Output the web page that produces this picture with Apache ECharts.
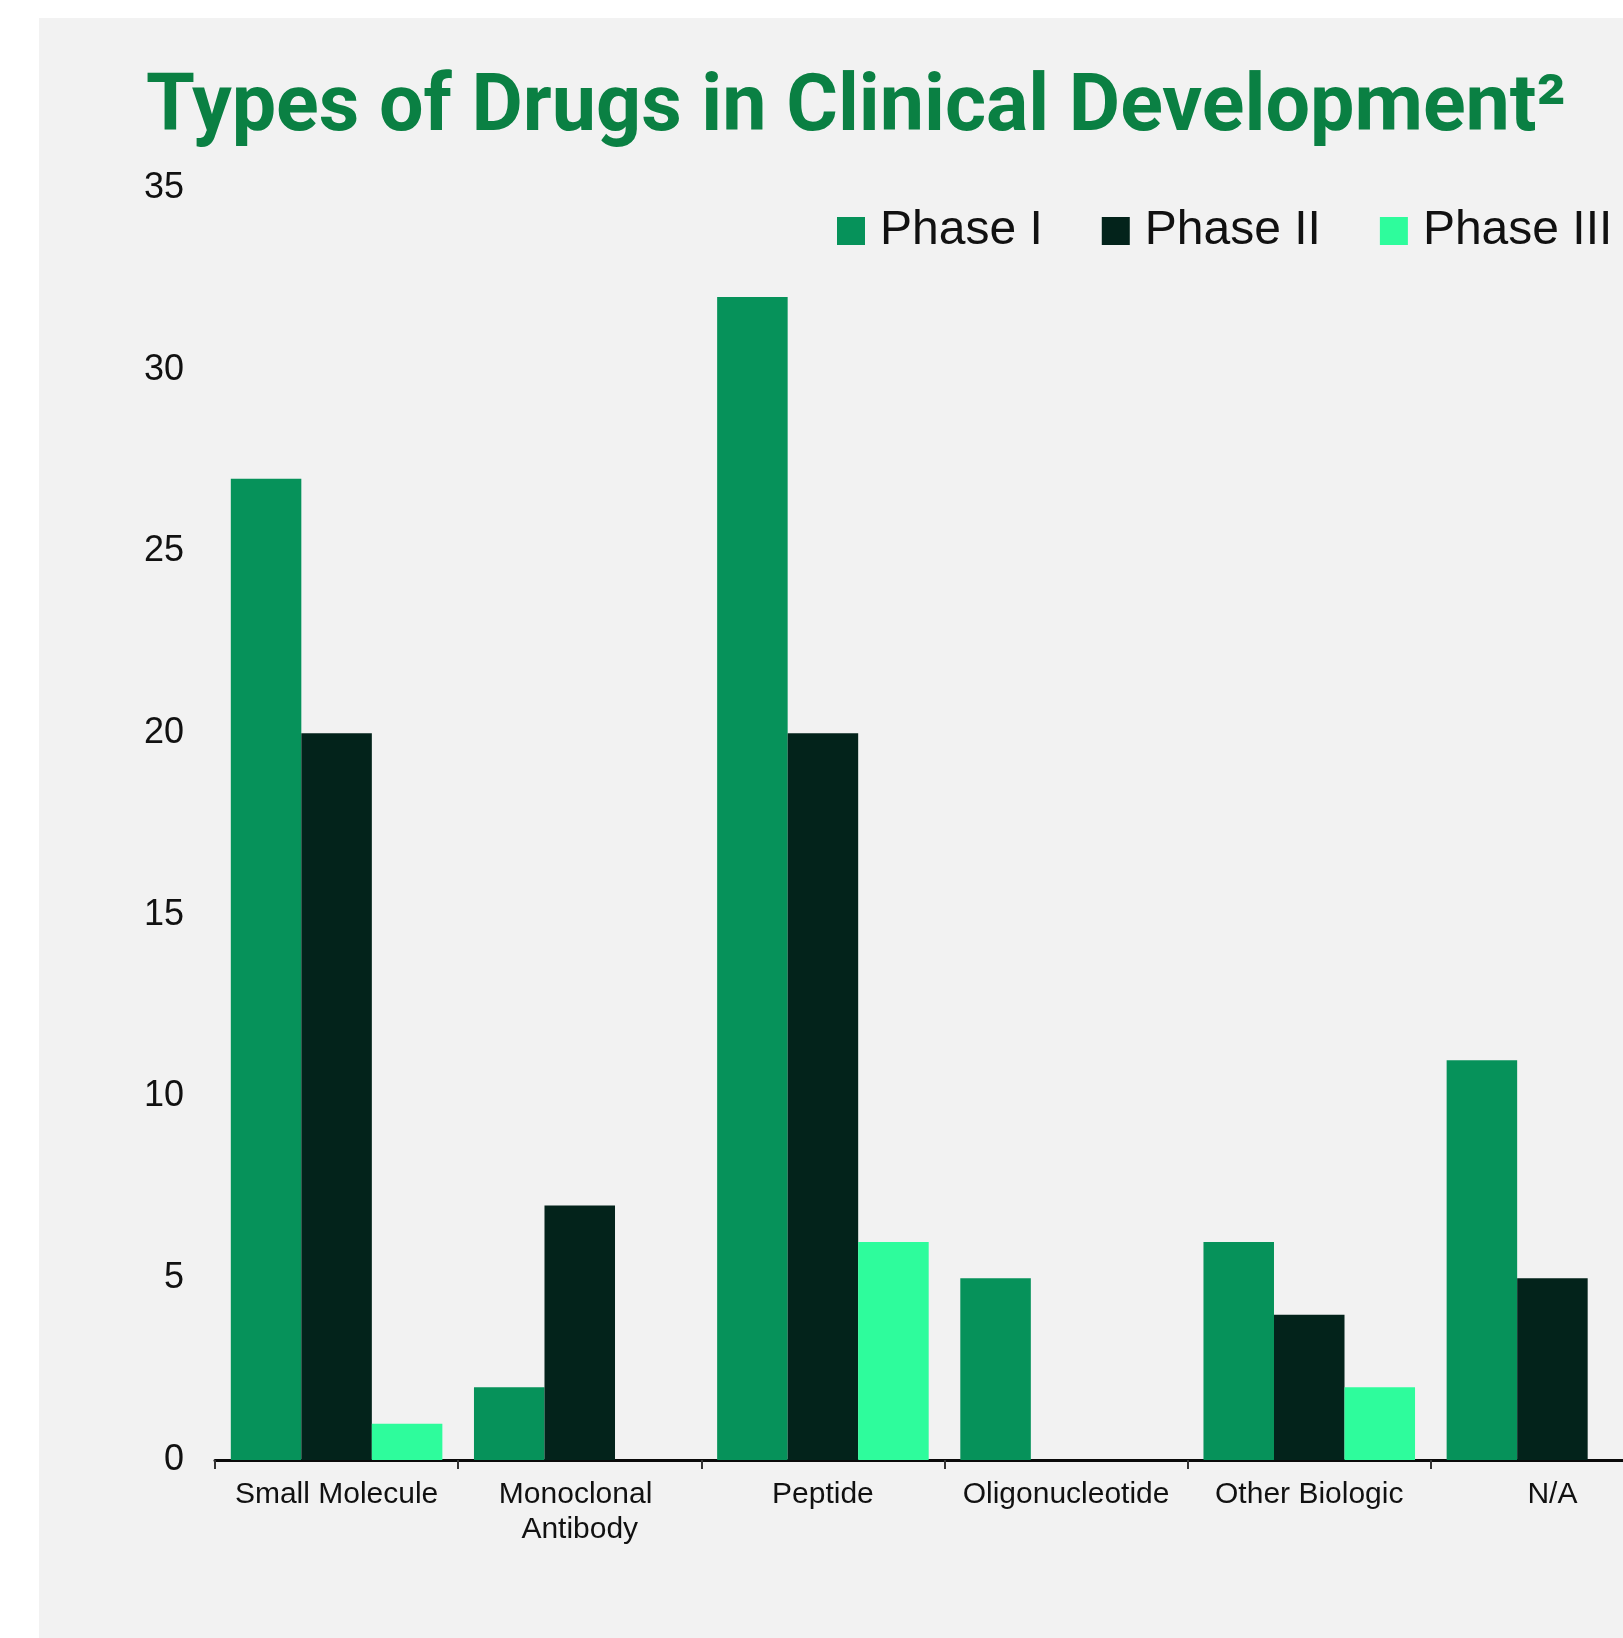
<!DOCTYPE html>
<html>
<head>
<meta charset="utf-8">
<script src="https://cdn.jsdelivr.net/npm/echarts@6/dist/echarts.min.js"></script>
<style>
  html, body { margin: 0; padding: 0; background: #ffffff; overflow: hidden; }
  #panel { position: absolute; left: 39px; top: 18px; width: 1700px; height: 1700px; background: #f2f2f2; }
  /* the plot runs past the right edge of the window, so the canvas is wider than the page */
  #chart { position: absolute; left: 0; top: 0; width: 1720px; height: 1638px; }
</style>
</head>
<body>
<div id="panel"></div>
<div id="chart"></div>
<script>
// Drug types and the number of candidates in each clinical phase
const categories = ['Small Molecule', 'Monoclonal Antibody', 'Peptide', 'Oligonucleotide', 'Other Biologic', 'N/A'];
const phase1 = [27, 2, 32, 5, 6, 11];
const phase2 = [20, 7, 20, 0, 4, 5];
const phase3 = [1, 0, 6, 0, 2, 0];
const seriesNames = ['Phase I', 'Phase II', 'Phase III'];
const titleText = 'Types of Drugs in Clinical Development\u00B2';

const colors = ['#06925a', '#03231b', '#2efc9c'];
const sans = '"Liberation Sans", Arial, sans-serif';

const chart = echarts.init(document.getElementById('chart'), null, { renderer: 'canvas' });

chart.setOption({
  backgroundColor: 'transparent',
  animation: false,
  title: {
    text: titleText,
    left: 146,
    top: 71,
    padding: 0,
    textStyle: {
      fontFamily: 'Roboto, sans-serif',
      fontWeight: 'bold',
      fontSize: 79,
      color: '#0a8043'
    }
  },
  legend: {
    left: 837,
    top: 207,
    icon: 'rect',
    itemWidth: 28,
    itemHeight: 28,
    itemGap: 59,
    padding: 0,
    data: seriesNames,
    textStyle: {
      fontFamily: sans,
      fontSize: 48,
      color: '#111111',
      padding: [0, 0, 0, 10]
    }
  },
  grid: {
    left: 215,
    top: 188,
    width: 1459,
    height: 1272
  },
  xAxis: {
    type: 'category',
    data: categories,
    boundaryGap: true,
    axisLine: { show: true, lineStyle: { color: '#0a0a0a', width: 3 } },
    axisTick: { show: true, length: 9, lineStyle: { color: '#333333', width: 2 } },
    axisLabel: {
      interval: 0,
      margin: 17,
      fontFamily: sans,
      fontSize: 30,
      lineHeight: 35,
      color: '#111111',
      width: 235,
      overflow: 'break'
    },
    splitLine: { show: false }
  },
  yAxis: {
    type: 'value',
    min: 0,
    max: 35,
    interval: 5,
    axisLine: { show: false },
    axisTick: { show: false },
    splitLine: { show: false },
    axisLabel: {
      margin: 31,
      fontFamily: sans,
      fontSize: 36,
      color: '#111111'
    }
  },
  series: [
    { name: seriesNames[0], type: 'bar', data: phase1, itemStyle: { color: colors[0] }, barGap: '0%', barCategoryGap: '13%' },
    { name: seriesNames[1], type: 'bar', data: phase2, itemStyle: { color: colors[1] }, barGap: '0%', barCategoryGap: '13%' },
    { name: seriesNames[2], type: 'bar', data: phase3, itemStyle: { color: colors[2] }, barGap: '0%', barCategoryGap: '13%' }
  ]
});
</script>
</body>
</html>
